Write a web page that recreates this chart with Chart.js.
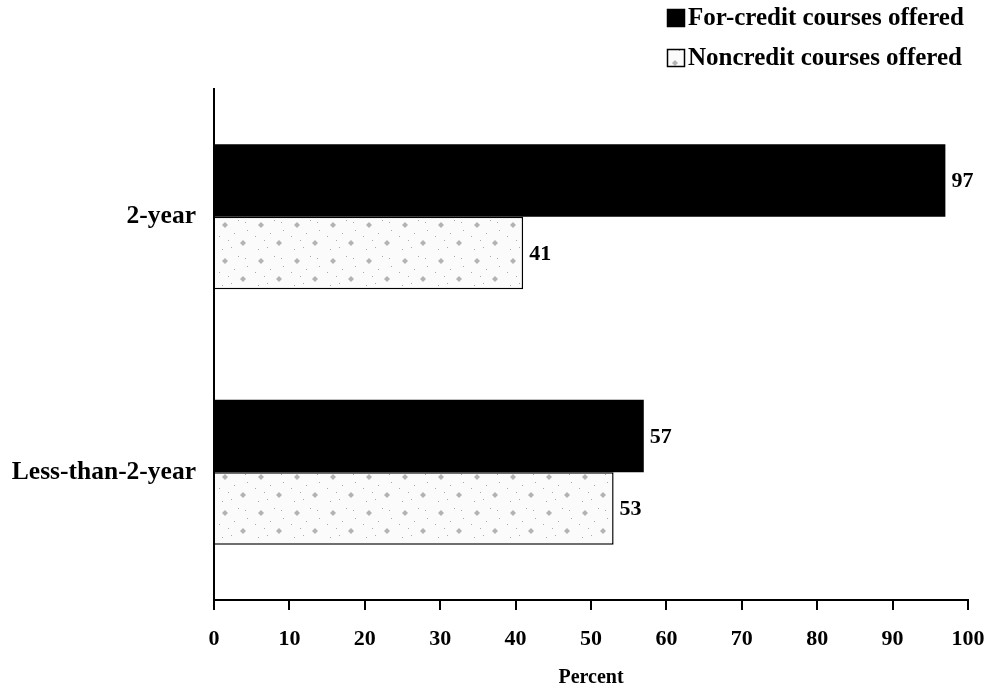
<!DOCTYPE html>
<html>
<head>
<meta charset="utf-8">
<script src="https://cdn.jsdelivr.net/npm/chart.js@4/dist/chart.umd.min.js"></script>
<style>
html,body{margin:0;padding:0;background:#fff;}
#wrap{width:991px;height:696px;position:relative;}
</style>
</head>
<body>
<div id="wrap"><canvas id="c" width="991" height="696"></canvas></div>
<script>
const categories = ["2-year", "Less-than-2-year"];
const forCredit = [97, 57];
const noncredit = [41, 53];
const seriesNames = ["For-credit courses offered", "Noncredit courses offered"];
const xTicks = [0, 10, 20, 30, 40, 50, 60, 70, 80, 90, 100];
const axisTitle = "Percent";

const FONT = "'Liberation Serif', 'Times New Roman', serif";

function makePattern() {
  const p = document.createElement('canvas');
  p.width = 36; p.height = 36;
  const g = p.getContext('2d');
  g.fillStyle = '#fbfbfb';
  g.fillRect(0, 0, 36, 36);
  g.fillStyle = 'rgba(120,120,120,0.55)';
  const diamond = (cx, cy, r) => {
    g.beginPath();
    g.moveTo(cx, cy - r); g.lineTo(cx + r, cy); g.lineTo(cx, cy + r); g.lineTo(cx - r, cy);
    g.closePath(); g.fill();
  };
  diamond(9, 9, 3); diamond(27, 27, 3);
  g.fillStyle = 'rgba(90,90,90,0.5)';
  [[3,20],[15,31],[22,4],[31,14],[6,33],[18,17],[12,24],[29,6]].forEach(([x,y]) => g.fillRect(x, y, 1, 1));
  return g.createPattern(p, 'repeat');
}
const pattern = makePattern();

const legendPlugin = {
  id: 'boxLegend',
  afterDraw(chart) {
    const ctx = chart.ctx;
    ctx.save();
    ctx.font = "bold 25px " + FONT;
    ctx.textBaseline = 'middle';
    ctx.textAlign = 'left';
    const items = [
      { y: 9, fill: '#000', border: '#000' },
      { y: 49, fill: pattern, border: '#000' }
    ];
    items.forEach((it, i) => {
      ctx.fillStyle = it.fill;
      ctx.fillRect(667, it.y, 18, 18);
      ctx.strokeStyle = it.border;
      ctx.lineWidth = 1.5;
      ctx.strokeRect(667.5, it.y + 0.5, 17, 17);
      ctx.fillStyle = '#000';
      ctx.fillText(chart.data.datasets[i].label, 688, it.y + 10);
    });
    ctx.restore();
  }
};

const valuePlugin = {
  id: 'values',
  afterDatasetsDraw(chart) {
    const ctx = chart.ctx;
    ctx.save();
    ctx.font = "bold 22px " + FONT;
    ctx.fillStyle = '#000';
    ctx.textBaseline = 'middle';
    ctx.textAlign = 'left';
    chart.data.datasets.forEach((ds, di) => {
      chart.getDatasetMeta(di).data.forEach((bar, i) => {
        ctx.fillText(String(ds.data[i]), bar.x + 6, bar.y + 1);
      });
    });
    ctx.restore();
  }
};

new Chart(document.getElementById('c'), {
  type: 'bar',
  data: {
    labels: categories,
    datasets: [
      { label: seriesNames[0], data: forCredit, backgroundColor: '#000', borderColor: '#000', borderWidth: 0 },
      { label: seriesNames[1], data: noncredit, backgroundColor: pattern, borderColor: '#000', borderWidth: 1.5, borderSkipped: 'left' }
    ]
  },
  plugins: [legendPlugin, valuePlugin],
  options: {
    indexAxis: 'y',
    responsive: false,
    animation: false,
    layout: { padding: { top: 89, right: 23, left: 0, bottom: 0 } },
    categoryPercentage: 0.567,
    barPercentage: 1.0,
    plugins: { legend: { display: false }, tooltip: { enabled: false } },
    scales: {
      x: {
        min: 0, max: 100,
        afterBuildTicks(scale) { scale.ticks = xTicks.map(v => ({ value: v })); },
        afterFit(scale) { scale.height = 96; scale.paddingRight = 0; scale.paddingLeft = 0; },
        grid: { display: true, drawOnChartArea: false, drawTicks: true, tickLength: 10, color: '#000', lineWidth: 2 },
        border: { display: true, color: '#000', width: 2 },
        ticks: { color: '#000', font: { family: FONT, size: 22, weight: 'bold' }, padding: 16, maxRotation: 0 },
        title: { display: true, text: axisTitle, color: '#000', font: { family: FONT, size: 20, weight: 'bold' }, padding: { top: 0, bottom: 6 } }
      },
      y: {
        afterFit(scale) { scale.width = 214; },
        grid: { display: false },
        border: { display: true, color: '#000', width: 2 },
        ticks: { color: '#000', font: { family: FONT, size: 25.5, weight: 'bold' }, padding: 10 }
      }
    }
  }
});
</script>
</body>
</html>
